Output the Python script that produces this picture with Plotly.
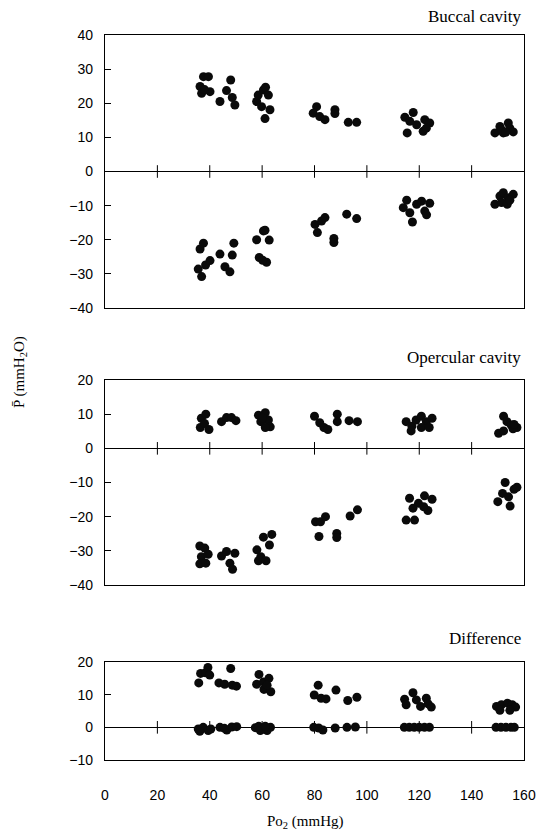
import plotly.graph_objects as go

# ---------------- data ----------------
buccal_pos_x = [36.3, 36.9, 37.6, 39.5, 40.1, 38.0, 43.9, 46.4, 48.0, 48.6, 49.6,
                57.9, 58.5, 59.8, 60.5, 61.3, 62.4, 63.0, 61.1,
                80.8, 79.5, 82.0, 84.0, 87.8, 87.8, 92.9, 96.1,
                114.5, 117.7, 115.4, 119.0, 121.5, 122.1, 124.0, 122.7, 116.4,
                148.9, 150.8, 152.1, 154.0, 154.6, 155.9, 151.4, 153.0]
buccal_pos_y = [24.9, 22.9, 27.8, 27.8, 23.4, 24.0, 20.5, 23.7, 26.8, 21.7, 19.5,
                20.5, 22.4, 19.0, 23.9, 24.7, 22.4, 18.1, 15.5,
                19.0, 17.1, 16.1, 15.2, 18.1, 17.0, 14.4, 14.4,
                15.9, 17.3, 11.3, 13.7, 11.8, 15.2, 14.2, 12.7, 14.7,
                11.3, 13.2, 11.3, 14.2, 12.7, 11.6, 12.2, 11.5]
buccal_neg_x = [36.3, 37.6, 35.6, 36.9, 38.4, 40.1, 43.9, 45.8, 47.7, 48.6, 49.2,
                57.9, 60.5, 61.1, 62.7, 58.9, 61.7, 60.2,
                80.2, 81.1, 82.7, 84.0, 87.4, 87.4, 92.3, 96.1,
                113.9, 115.2, 116.4, 117.4, 119.0, 120.9, 122.1, 122.8, 124.0,
                148.9, 150.8, 152.1, 154.0, 155.9, 151.4, 153.6, 154.6]
buccal_neg_y = [-22.7, -21.0, -28.6, -30.8, -27.4, -26.1, -24.2, -27.9, -29.4, -24.5, -21.0,
                -20.0, -17.4, -17.2, -20.1, -25.2, -26.6, -26.0,
                -15.5, -17.9, -14.5, -13.5, -19.6, -20.8, -12.5, -13.8,
                -10.6, -8.4, -12.1, -14.8, -9.6, -8.7, -11.6, -12.7, -9.3,
                -9.6, -7.2, -6.2, -7.7, -6.7, -9.1, -9.6, -8.4]

operc_pos_x = [36.8, 38.5, 36.4, 39.7, 38.0, 44.5, 46.4, 48.3, 50.0,
               58.6, 61.2, 62.4, 59.5, 63.1, 61.2, 60.2,
               80.0, 82.0, 83.6, 85.1, 88.7, 88.7, 93.2, 96.4,
               115.0, 117.2, 118.8, 120.8, 122.7, 124.9, 116.9, 120.8, 123.8,
               152.2, 153.5, 155.1, 157.3, 150.3, 152.2, 155.8, 156.2]
operc_pos_y = [8.8, 10.0, 6.1, 5.5, 7.3, 7.8, 9.0, 9.0, 8.1,
               9.7, 10.4, 8.3, 7.8, 6.3, 6.1, 8.9,
               9.4, 7.5, 6.1, 5.5, 10.0, 7.8, 8.1, 7.8,
               7.8, 6.5, 8.3, 9.4, 7.8, 8.8, 5.1, 6.1, 6.1,
               9.4, 7.8, 6.8, 6.1, 4.4, 5.1, 5.7, 7.0]
operc_neg_x = [36.2, 38.1, 36.8, 39.4, 36.2, 38.5, 44.5, 46.4, 49.6, 47.7, 48.7,
               58.0, 59.5, 58.6, 61.5, 60.5, 63.7, 62.8,
               80.4, 82.3, 84.2, 81.7, 88.5, 88.5, 93.6, 96.4,
               115.0, 118.2, 116.3, 117.6, 119.7, 122.0, 124.9, 123.3, 121.7,
               152.8, 157.3, 150.0, 154.7, 151.8, 154.1, 156.2]
operc_neg_y = [-28.6, -29.2, -31.7, -31.0, -33.8, -33.6, -31.5, -30.2, -30.7, -33.6, -35.4,
               -29.7, -31.7, -32.9, -32.9, -26.0, -25.2, -28.3,
               -21.5, -21.5, -20.0, -25.8, -24.9, -26.1, -19.8, -18.0,
               -21.0, -21.0, -14.6, -17.5, -16.1, -13.9, -14.9, -18.2, -17.1,
               -10.0, -11.4, -15.6, -16.9, -13.2, -14.2, -12.0]

diff_pos_x = [35.8, 36.5, 38.4, 39.3, 40.0, 43.5, 45.7, 48.0, 48.6, 50.2,
              58.8, 57.9, 60.5, 62.6, 60.7, 63.3, 61.9,
              79.9, 81.4, 82.5, 84.4, 88.2, 92.7, 96.2,
              114.4, 115.0, 117.6, 118.9, 120.5, 122.7, 123.4, 124.6,
              149.5, 151.4, 153.7, 155.5, 156.8, 150.8, 154.6]
diff_pos_y = [13.6, 16.5, 16.7, 18.3, 16.0, 13.6, 13.2, 18.0, 12.9, 12.6,
              16.2, 13.2, 13.9, 15.0, 11.6, 10.9, 12.9,
              9.9, 12.9, 8.9, 8.7, 11.4, 8.2, 9.2,
              8.6, 6.9, 10.6, 8.4, 6.4, 8.9, 7.2, 6.2,
              6.4, 6.9, 7.4, 6.9, 6.2, 5.2, 5.2]
diff_zero_x = [35.6, 37.5, 39.4, 36.2, 40.4, 43.9, 46.5, 48.4, 50.3, 45.6,
               57.4, 58.7, 60.6, 61.9, 63.2, 59.3, 61.2,
               79.7, 81.6, 83.2, 87.9, 92.4, 95.6,
               114.3, 116.2, 118.1, 120.0, 122.0, 123.9,
               149.3, 151.2, 153.1, 155.0, 156.3]
diff_zero_y = [-0.5, 0.0, -1.0, -1.2, -0.5, 0.0, -0.8, 0.1, 0.2, -0.3,
               -0.1, 0.3, -0.5, -1.0, 0.0, -1.0, 0.3,
               0.0, -0.2, -0.8, -0.2, 0.0, 0.1,
               0.0, 0.0, 0.0, 0.0, 0.0, 0.0,
               0.0, 0.0, 0.0, 0.0, 0.0]

x_ticks = [0, 20, 40, 60, 80, 100, 120, 140, 160]
zero_ticks = [20, 40, 60, 80, 100, 120, 140]

panel_titles = ["Buccal cavity", "Opercular cavity", "Difference"]
y_label = "P\u0304 (mmH<sub>2</sub>O)"
x_label = "Po<sub>2</sub> (mmHg)"

# ---------------- figure ----------------
W, H = 545, 839
fig = go.Figure()

dot = dict(color="#0a0a0a", size=9, line=dict(width=0))

def add_dots(xs, ys, xa, ya):
    fig.add_trace(go.Scatter(x=xs, y=ys, mode="markers", marker=dot,
                             xaxis=xa, yaxis=ya, hoverinfo="skip", showlegend=False))

def add_zero_ticks(xa, ya):
    fig.add_trace(go.Scatter(x=zero_ticks, y=[0] * len(zero_ticks), mode="markers",
                             marker=dict(symbol="line-ns", size=9,
                                         line=dict(width=1, color="black")),
                             xaxis=xa, yaxis=ya, hoverinfo="skip", showlegend=False))

add_zero_ticks("x", "y")
add_dots(buccal_pos_x, buccal_pos_y, "x", "y")
add_dots(buccal_neg_x, buccal_neg_y, "x", "y")
add_zero_ticks("x2", "y2")
add_dots(operc_pos_x, operc_pos_y, "x2", "y2")
add_dots(operc_neg_x, operc_neg_y, "x2", "y2")
add_zero_ticks("x3", "y3")
add_dots(diff_zero_x, diff_zero_y, "x3", "y3")
add_dots(diff_pos_x, diff_pos_y, "x3", "y3")

def py2f(py):
    return 1 - py / H

x_left, x_right = 105, 524
xdom = [x_left / W, x_right / W]

tickfont = dict(family="Liberation Sans, Arial, sans-serif", size=14, color="black")

def xaxis(anchor, labels):
    return dict(domain=xdom, range=[0, 160], anchor=anchor, showgrid=False,
                zeroline=False, showline=True, mirror=True, linecolor="black",
                linewidth=1.3, ticks="", tickvals=x_ticks, showticklabels=labels,
                tickfont=tickfont, ticklabelstandoff=22, automargin=False,
                fixedrange=True)

def yaxis(anchor, dom, rng, dtick):
    return dict(domain=dom, range=rng, anchor=anchor, showgrid=False,
                zeroline=True, zerolinecolor="black", zerolinewidth=1,
                showline=True, mirror=True, linecolor="black", linewidth=1.3,
                ticks="inside", ticklen=6, tickcolor="black", tickwidth=1,
                dtick=dtick, tick0=0, tickfont=tickfont, ticklabelstandoff=8,
                automargin=False, fixedrange=True)

fig.update_layout(
    width=W, height=H,
    margin=dict(l=0, r=0, t=0, b=0),
    paper_bgcolor="white", plot_bgcolor="white",
    xaxis=xaxis("y", False),
    xaxis2=xaxis("y2", False),
    xaxis3=xaxis("y3", True),
    yaxis=yaxis("x", [py2f(308), py2f(35)], [-40, 40], 10),
    yaxis2=yaxis("x2", [py2f(585), py2f(380)], [-40, 20], 10),
    yaxis3=yaxis("x3", [py2f(760), py2f(662)], [-10, 20], 10),
    showlegend=False,
)

serif = dict(family="Liberation Serif, Times New Roman, serif", size=17, color="black")
for t, py in zip(panel_titles, [17, 357, 638]):
    fig.add_annotation(text=t, xref="paper", yref="paper", x=523 / W, y=py2f(py),
                       xanchor="right", yanchor="middle", showarrow=False, font=serif)

fig.add_annotation(text=y_label, xref="paper", yref="paper", x=20 / W, y=py2f(372),
                   xanchor="center", yanchor="middle", textangle=-90, showarrow=False,
                   font=dict(family="Liberation Serif, Times New Roman, serif", size=15,
                             color="black"))
fig.add_annotation(text=x_label, xref="paper", yref="paper", x=305 / W, y=py2f(822),
                   xanchor="center", yanchor="middle", showarrow=False,
                   font=dict(family="Liberation Serif, Times New Roman, serif", size=15,
                             color="black"))

fig.write_html("out.html")
